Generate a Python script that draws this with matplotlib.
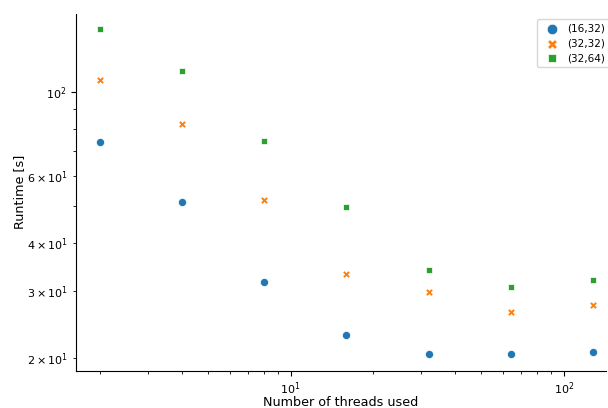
import matplotlib
matplotlib.use("Agg")
import matplotlib.pyplot as plt

threads = [2, 4, 8, 16, 32, 64, 128]
labels = ['(16,32)', '(32,32)', '(32,64)']
rt_16_32 = [73.9, 51.4, 31.7, 23.0, 20.5, 20.5, 20.7]
rt_32_32 = [107.5, 82.4, 52.0, 33.2, 29.8, 26.4, 27.6]
rt_32_64 = [145.6, 113.5, 74.3, 49.9, 34.1, 30.7, 32.1]

series = [rt_16_32, rt_32_32, rt_32_64]
colors = ['#1f77b4', '#ff7f0e', '#2ca02c']
markers = ['o', 'X', 's']
sizes = [34, 30, 18]

fig = plt.figure(figsize=(6.08, 4.08), dpi=100)
ax = fig.add_axes([0.125, 0.091, 0.872, 0.875])

for vals, lab, c, m, s in zip(series, labels, colors, markers, sizes):
    ax.scatter(threads, vals, s=s, c=c, marker=m, edgecolors='white',
               linewidths=0.5, label=lab)

ax.set_xscale('log')
ax.set_yscale('log')
ax.set_xlim(1.64, 143)
ax.set_ylim(18.5, 160)
ax.set_xlabel('Number of threads used', fontsize=9.2)
ax.set_ylabel('Runtime [s]', fontsize=9.2)
ax.xaxis.set_label_coords(0.5, -0.070)
ax.yaxis.set_label_coords(-0.095, 0.5)
ax.spines['top'].set_visible(False)
ax.spines['right'].set_visible(False)
ax.tick_params(labelsize=8)
ax.tick_params(which='minor', labelsize=8)
ax.legend(loc='upper left', bbox_to_anchor=(537 / 608, 1 - 19.5 / 408),
          bbox_transform=fig.transFigure, fontsize=7.5, markerscale=1.3,
          borderaxespad=0, labelspacing=0.45, handletextpad=0.5)

fig.savefig('out.png', dpi=100)
